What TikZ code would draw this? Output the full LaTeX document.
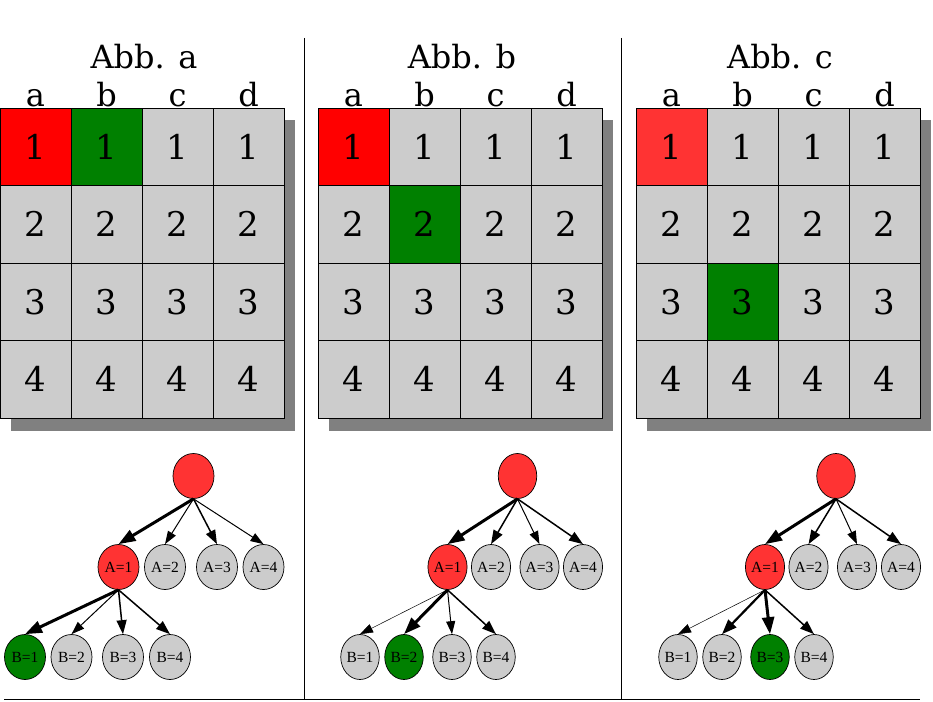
\documentclass[tikz,border=0pt]{standalone}
\usepackage{fontspec}
\setmainfont{DejaVu Serif}
\newfontfamily\treefont{Liberation Serif}
\usetikzlibrary{arrows.meta}
\usetikzlibrary{shapes.geometric}

\definecolor{cellgray}{HTML}{CCCCCC}
\definecolor{shadowgray}{HTML}{808080}
\definecolor{cellred}{HTML}{FF0000}
\definecolor{softred}{HTML}{FF3333}
\definecolor{cellgreen}{HTML}{008000}

\begin{document}
\begin{tikzpicture}[%
  x=1pt, y=-1pt,
  cell/.style={draw, line width=0.8pt, minimum width=71pt, minimum height=77.5pt,
    inner sep=0pt, font=\fontsize{34}{40}\selectfont},
  caption/.style={anchor=base, inner sep=0pt, font=\fontsize{32}{38}\selectfont},
  vertex/.style={ellipse, draw, line width=0.7pt, fill=cellgray, minimum width=41pt,
    minimum height=45pt, inner sep=0pt, font=\treefont\fontsize{15.5}{18}\selectfont},
  narrow/.style={minimum width=38.5pt},
  faint/.style={line width=0.5pt, -{Triangle[length=13pt,width=9pt]}},
  light/.style={line width=1pt, -{Triangle[length=13pt,width=9pt]}},
  mid/.style={line width=1.5pt, -{Triangle[length=14pt,width=10pt]}},
  heavy/.style={line width=2.2pt, -{Triangle[length=15pt,width=11pt]}},
  bold/.style={line width=3pt, -{Triangle[length=17pt,width=12pt]}},
]
  \useasboundingbox (0,0) rectangle (933,701);

  % frame lines
  \draw[line width=0.8pt] (304,38) -- (304,699);
  \draw[line width=0.8pt] (621,38) -- (621,699);
  \draw[line width=0.8pt] (4,699) -- (920,699);

  % the three boards
  \foreach \p/\dx/\g/\rc in {a/0/1/cellred, b/318/2/cellred, c/636/3/softred} {
    \fill[shadowgray] (\dx+11,120) rectangle (\dx+295,431);
    \node[caption] (t-\p) at (\dx+144,68) {Abb. \p};
    \foreach \c/\l in {1/a,2/b,3/c,4/d} {
      \node[caption] (h-\p\c) at (\dx+71*\c-35.5,106) {\l};
      \foreach \r in {1,...,4} {
        \def\cellcol{cellgray}
        \ifnum\c=1 \ifnum\r=1 \def\cellcol{\rc}\fi\fi
        \ifnum\c=2 \ifnum\r=\g \def\cellcol{cellgreen}\fi\fi
        \node[cell, fill=\cellcol] (\p-\c\r) at (\dx+71*\c-35.5,108+77.5*\r-38.75) {\r};
      }
    }
  }

  % tree a
  \node[vertex, fill=softred] (a-root) at (193.5,476) {};
  \node[vertex, fill=softred] (a-A1) at (118.5,567) {A=1};
  \node[vertex] (a-A2) at (165,567) {A=2};
  \node[vertex] (a-A3) at (217,567) {A=3};
  \node[vertex] (a-A4) at (263.5,567) {A=4};
  \node[vertex, fill=cellgreen] (a-B1) at (25,657) {B=1};
  \node[vertex] (a-B2) at (71.5,657) {B=2};
  \node[vertex] (a-B3) at (123,657) {B=3};
  \node[vertex] (a-B4) at (170,657) {B=4};
  \foreach \i/\s in {1/bold,2/light,3/mid,4/light}
    \draw[\s] (a-root.south) -- (a-A\i.north);
  \foreach \i/\s in {1/bold,2/light,3/mid,4/mid}
    \draw[\s] (a-A1.south) -- (a-B\i.north);

  % tree b
  \node[vertex, narrow, fill=softred] (b-root) at (517.5,476) {};
  \node[vertex, narrow, fill=softred] (b-A1) at (447.5,567) {A=1};
  \node[vertex, narrow] (b-A2) at (491,567) {A=2};
  \node[vertex, narrow] (b-A3) at (539.5,567) {A=3};
  \node[vertex, narrow] (b-A4) at (583,567) {A=4};
  \node[vertex, narrow] (b-B1) at (360,657) {B=1};
  \node[vertex, narrow, fill=cellgreen] (b-B2) at (404,657) {B=2};
  \node[vertex, narrow] (b-B3) at (452,657) {B=3};
  \node[vertex, narrow] (b-B4) at (496,657) {B=4};
  \foreach \i/\s in {1/bold,2/mid,3/light,4/mid}
    \draw[\s] (b-root.south) -- (b-A\i.north);
  \foreach \i/\s in {1/faint,2/bold,3/light,4/mid}
    \draw[\s] (b-A1.south) -- (b-B\i.north);

  % tree c
  \node[vertex, narrow, fill=softred] (c-root) at (836,476) {};
  \node[vertex, narrow, fill=softred] (c-A1) at (765,567) {A=1};
  \node[vertex, narrow] (c-A2) at (808.5,567) {A=2};
  \node[vertex, narrow] (c-A3) at (857,567) {A=3};
  \node[vertex, narrow] (c-A4) at (901,567) {A=4};
  \node[vertex, narrow] (c-B1) at (678,657) {B=1};
  \node[vertex, narrow] (c-B2) at (722,657) {B=2};
  \node[vertex, narrow, fill=cellgreen] (c-B3) at (770,657) {B=3};
  \node[vertex, narrow] (c-B4) at (814,657) {B=4};
  \foreach \i/\s in {1/bold,2/mid,3/light,4/mid}
    \draw[\s] (c-root.south) -- (c-A\i.north);
  \foreach \i/\s in {1/faint,2/heavy,3/bold,4/mid}
    \draw[\s] (c-A1.south) -- (c-B\i.north);

\end{tikzpicture}
\end{document}
